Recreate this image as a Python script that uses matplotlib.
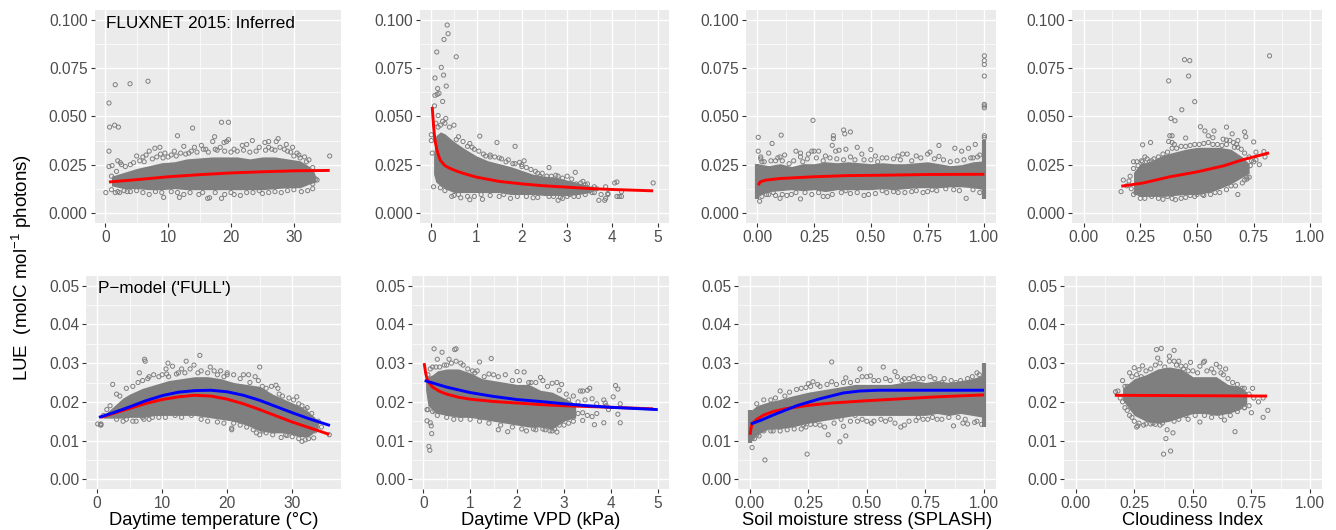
import numpy as np
import matplotlib
matplotlib.use("Agg")
import matplotlib.pyplot as plt

plt.rcParams['font.family'] = ['Liberation Sans', 'DejaVu Sans']
plt.rcParams['mathtext.fontset'] = 'custom'
plt.rcParams['mathtext.rm'] = 'Liberation Sans'
plt.rcParams['mathtext.default'] = 'regular'

W, H = 1336, 530
GREY = '#7F7F7F'

# ---------- top row data: band = dense body of the cloud (x, low, high), pts = individually legible points
a_band_x = [1, 3, 5, 7, 9, 11, 13, 15, 17, 19, 21, 23, 25, 27, 29, 31, 32.5, 33.5]
a_band_hi = [.019, .021, .023, .0245, .026, .0265, .028, .0285, .029, .029, .029, .028, .029, .029, .028, .027, .024, .019]
a_band_lo = [.014, .0125, .0125, .012, .012, .0125, .012, .012, .012, .012, .012, .012, .012, .0125, .013, .013, .015, .016]
a_pts = [(0.1,.0105),(0.6,.032),(0.6,.024),(1.1,.0245),(0.6,.057),(0.7,.0445),(1.5,.0455),(2.1,.0445),(1.6,.0665),(3.95,.067),(6.8,.0683),
 (11.5,.040),(13.9,.044),(18.5,.047),(19.6,.047),(17.4,.0395),(17.1,.037),(19.6,.038),(18.9,.0365),(19.3,.037),(27.5,.0385),(27.2,.037),
 (23.4,.0375),(26,.037),(25.4,.0365),(28.8,.0355),(29.8,.034),(21.8,.035),(22.5,.0355),(35.7,.0295),(15.3,.035),(14.2,.034),(12.5,.0345),
 (8.7,.034),(7.9,.0335),(5,.0295),(6,.029),(6.5,.030),(7,.032),(2,.027),(2.4,.026),(2.6,.025),(1.8,.0215),(1,.019),(1,.012),(1.6,.0105),
 (2,.011),(2.3,.0105),(3.5,.011),(7,.0095),(9.3,.008),(11.8,.008),(12.5,.0095),(14.9,.0095),(16.3,.0075),(16.6,.0078),(18.5,.0075),(20,.0105),
 (21.5,.009),(25,.010),(28,.0105),(31.2,.011),(32.2,.0115),(33,.0125),(33.5,.0175),(33.7,.017),(33,.015),(33,.02),(32.4,.0275),(31.7,.029),
 (31,.0285),(30.5,.031),(10.5,.030),(9.5,.031),(11,.032),(13.3,.031),(16,.033),(17.5,.033),(20.5,.033),(24,.032),(26.5,.033),(29,.032),(4,.025),(3.2,.024),
 (4.5,.026),(5.5,.027),(6.2,.0265),(7.5,.028),(8.2,.029),(8.8,.0305),(9.2,.0285),(10,.029),(11.3,.0295),(12,.031),(12.8,.0305),(13.7,.032),(14.6,.0315),
 (15.6,.033),(16.4,.0315),(17.8,.0325),(18.3,.034),(19,.032),(20,.0315),(21,.032),(22,.0325),(23,.0315),(24.5,.034),(25.5,.0325),(26,.034),(27,.0325),
 (27.8,.034),(28.5,.033),(29.5,.0315),(30,.0295),(30.8,.03),(32,.0265),(33,.0235),(5,.0115),(6,.0105),(8,.011),(9,.0105),(10.5,.011),(11.5,.0105),
 (13.5,.0105),(15.5,.0105),(17.5,.0105),(19,.0095),(20.5,.0095),(22.5,.0105),(23.5,.0105),(24.5,.0115),(26,.0105),(27,.011),(29,.0115),(30,.012),(3,.0115),(4,.011)]
a_red_x = [.6, 5, 10, 15, 20, 25, 30, 35.7]
a_red_y = [.016, .0172, .0187, .0198, .0207, .0213, .0218, .0220]

b_band_x = [.05, .1, .2, .3, .5, .75, 1, 1.25, 1.5, 1.75, 2, 2.25, 2.5, 2.75, 3, 3.25, 3.5]
b_band_hi = [.03, .04, .042, .041, .037, .033, .0295, .027, .0255, .024, .022, .020, .019, .0185, .017, .0155, .014]
b_band_lo = [.02, .016, .014, .0125, .0105, .0105, .0105, .0105, .0105, .0095, .0095, .0095, .009, .009, .009, .0095, .0105]
b_pts = [(.35,.0975),(.37,.093),(.28,.09),(.12,.0835),(.55,.081),(.22,.0755),(.27,.0715),(.08,.07),(.33,.0658),(.14,.0645),(.08,.061),(.13,.0615),
 (.17,.062),(.25,.0578),(.07,.0555),(.15,.0505),(.32,.049),(.25,.0475),(.5,.0455),(.1,.0465),(.0,.0405),(.0,.0375),(.02,.031),(.05,.0135),(1.07,.0398),
 (1.45,.0365),(1.85,.0345),(.85,.036),(.55,.038),(1.15,.0305),(1.7,.0275),(2.05,.027),(1.95,.0262),(2.6,.0235),(3.18,.021),(3.35,.0163),(3,.019),
 (2.8,.019),(2.65,.019),(2.45,.0205),(2.3,.0215),(2.1,.0235),(2.4,.019),(3.85,.0135),(3.9,.01),(4.05,.0155),(4.1,.016),(4.9,.0155),(4.2,.011),
 (4.15,.0085),(4.2,.0085),(4.1,.0085),(3.9,.0095),(3.85,.0075),(3.83,.0065),(3.7,.0065),(3.55,.0125),(3.65,.0125),(3.75,.0095),(3.6,.0105),(3.5,.0115),
 (3.25,.0085),(3.05,.0095),(2.9,.0075),(2.8,.0065),(1.13,.007),(.85,.0068),(.65,.0078),(.5,.009),(1.75,.0075),(2.25,.0078),(2.7,.0085),(3.35,.011),
 (3.4,.013),(3.2,.015),(3.1,.015),(.9,.034),(1.3,.029),(1.5,.0285),(1.8,.0255),(2.0,.025),
 (.4,.0445),(.3,.0465),(.2,.0455),(.15,.0445),(.6,.0395),(.7,.037),(.8,.0345),(.95,.033),(1.05,.032),(1.2,.0295),(1.3,.03),(1.4,.029),(1.55,.028),(1.65,.0265),
 (1.85,.0255),(2,.024),(2.2,.0225),(2.35,.0205),(2.55,.019),(2.75,.0195),(2.9,.018),(3.1,.0175),(3.3,.0155),(3.45,.015),(3.6,.0135),(3.4,.0145),(.45,.0085),
 (.6,.0095),(.8,.0085),(.95,.0085),(1.1,.0095),(1.3,.009),(1.5,.0085),(1.6,.0095),(1.9,.0085),(2.1,.0085),(2.35,.008),(2.6,.0085),(2.85,.008),(3,.0085),
 (3.15,.0085),(3.4,.0095),(3.55,.0105),(.2,.013),(.3,.0115)]
b_red_x = [.02, .05, .08, .12, .16, .2, .3, .4, .5, .6, .75, 1, 1.5, 2, 2.5, 3, 3.5, 4, 4.9]
b_red_y = [.055, .045, .0376, .033, .0297, .0272, .0245, .0232, .0222, .0213, .0202, .0185, .0163, .015, .014, .0133, .0126, .0121, .0114]

c_band_x = [0, .05, .1, .15, .2, .25, .3, .35, .4, .45, .5, .55, .6, .65, .7, .75, .8, .85, .9, .95, 1]
c_band_hi = [.0255, .0245, .0255, .024, .0255, .0255, .0265, .026, .0265, .026, .0255, .026, .0255, .0255, .026, .0265, .0255, .0245, .025, .0265, .027]
c_band_lo = [.0085, .011, .0115, .012, .0115, .012, .011, .012, .012, .012, .012, .0125, .012, .0125, .013, .013, .013, .0135, .0135, .013, .012]
c_col_x = [0, 1]
c_col_lo = [.007, .007]
c_col_hi = [.0255, .038]
c_pts = [(1,.0815),(1,.079),(1,.077),(1,.071),(1,.0563),(1,.0545),(1,.0555),(1,.04),(1,.039),(.245,.048),(.38,.043),(.385,.041),(.41,.042),(.335,.040),
 (.335,.0385),(.33,.035),(.105,.0403),(.004,.0392),(.065,.036),(.004,.032),(.05,.031),(.015,.029),(.015,.028),(.03,.0265),(.09,.0285),(.1,.029),(.12,.030),
 (.17,.032),(.19,.031),(.19,.029),(.225,.0305),(.24,.032),(.25,.032),(.27,.032),(.3,.0295),(.345,.032),(.36,.0325),(.39,.033),(.44,.034),(.5,.0328),
 (.46,.0305),(.52,.0295),(.55,.0285),(.62,.0295),(.66,.0305),(.64,.0305),(.7,.0295),(.75,.0305),(.76,.0315),(.8,.0293),(.8,.035),(.87,.0335),(.9,.032),
 (.93,.0335),(.96,.0355),(.98,.03),(.95,.0285),(.01,.006),(.1,.0075),(.19,.0072),(.29,.0085),(.47,.009),(.92,.0075),(.52,.01),(.57,.0105),(.62,.0105),
 (.68,.011),(.75,.011),(.79,.0115),(.865,.012),(.13,.009),(.05,.0095),(.08,.009),(.24,.0095),(.41,.01),
 (.02,.0265),(.06,.027),(.08,.027),(.11,.027),(.14,.0255),(.16,.027),(.2,.0265),(.22,.028),(.26,.0285),(.29,.027),(.32,.0285),(.35,.028),(.38,.0275),(.41,.029),
 (.43,.0275),(.47,.0275),(.5,.0275),(.53,.0265),(.57,.0285),(.6,.028),(.63,.0275),(.68,.027),(.72,.0285),(.78,.028),(.82,.0275),(.85,.0265),(.88,.027),(.91,.0275),
 (.94,.0285),(.97,.029),(.02,.0085),(.04,.0095),(.07,.0105),(.11,.0095),(.15,.0095),(.17,.0105),(.21,.0105),(.27,.0105),(.31,.0085),(.33,.0095),(.37,.0105),
 (.39,.0115),(.44,.0105),(.49,.0095),(.55,.0115),(.6,.011),(.65,.0105),(.7,.0115),(.73,.0105),(.77,.012),(.83,.0125),(.89,.0115),(.95,.012),(.98,.0105)]
c_red_x = [.004, .012, .034, .1, .247, .394, .54, .76, 1]
c_red_y = [.0143, .016, .0169, .0178, .0187, .0193, .0195, .0199, .020]

d_band_x = [.22, .25, .3, .35, .4, .45, .5, .55, .6, .65, .7, .73]
d_band_hi = [.021, .0255, .027, .030, .0315, .033, .034, .034, .034, .033, .029, .0255]
d_band_lo = [.010, .0085, .0085, .0085, .009, .0095, .0095, .0105, .0125, .015, .0185, .0205]
d_pts = [(.82,.0815),(.445,.0795),(.468,.079),(.463,.071),(.375,.0685),(.49,.0577),(.433,.0535),(.385,.049),(.403,.0478),(.515,.0447),(.535,.0425),(.575,.0425),
 (.63,.0445),(.655,.041),(.71,.042),(.715,.0395),(.75,.0368),(.38,.04),(.39,.04),(.375,.037),(.39,.0365),(.4,.0355),(.26,.0353),(.295,.0365),(.45,.0388),
 (.55,.040),(.57,.039),(.615,.0382),(.63,.0378),(.645,.0375),(.68,.0375),(.675,.0355),(.665,.034),(.695,.033),(.76,.0315),(.795,.0318),(.8,.029),(.76,.0275),
 (.74,.027),(.775,.025),(.735,.0245),(.72,.0235),(.72,.0175),(.72,.0185),(.68,.0095),(.25,.0075),(.175,.017),(.165,.011),(.22,.0265),(.235,.0265),(.255,.027),
 (.27,.029),(.29,.0265),(.3,.027),(.205,.019),(.22,.0095),(.35,.007),(.405,.0068),(.43,.0075),(.49,.0085),(.525,.0095),(.5,.0095),(.6,.0105),(.65,.014),(.7,.0155),
 (.22,.023),(.24,.0245),(.26,.0265),(.28,.028),(.31,.028),(.33,.029),(.35,.0305),(.37,.0315),(.39,.0335),(.41,.0335),(.43,.0345),(.45,.0345),(.47,.035),(.49,.0355),
 (.51,.0355),(.53,.036),(.55,.0365),(.57,.0355),(.59,.0355),(.61,.035),(.63,.0355),(.66,.0365),(.68,.034),(.71,.031),(.73,.029),(.75,.0265),(.21,.0125),(.23,.0105),
 (.27,.0075),(.3,.0085),(.33,.0075),(.37,.0085),(.39,.0075),(.45,.008),(.47,.009),(.53,.009),(.56,.0095),(.58,.0105),(.63,.012),(.67,.014),(.71,.017),(.73,.0185),(.19,.014),(.2,.0165)]
d_red_x = [.166, .263, .38, .498, .615, .703, .818]
d_red_y = [.0138, .0155, .0187, .0212, .0243, .0276, .0311]

# ---------- bottom row data
e_band_x = [1, 3, 4, 5, 7, 9, 11, 13, 15, 17, 19, 21, 23, 25, 27, 29, 31, 32.5, 34]
e_band_hi = [.0165, .0195, .021, .022, .0235, .0245, .0255, .026, .0265, .0265, .026, .025, .0245, .024, .022, .0205, .019, .0175, .015]
e_band_lo = [.0158, .0158, .0158, .016, .016, .0165, .0165, .0165, .0165, .016, .0155, .015, .014, .0125, .012, .012, .011, .011, .013]
e_pts = [(0.1,.0143),(.6,.0143),(.5,.0141),(.6,.014),(2.4,.0245),(3,.022),(6.5,.0275),(7.3,.031),(7.4,.0305),(8,.0265),(10.6,.0285),(10.7,.0272),(10.9,.03),
 (11.6,.0292),(12.2,.0272),(13,.0285),(13.7,.0305),(14.3,.0285),(14.9,.0295),(15.8,.032),(16,.028),(17.4,.029),(19,.028),(20,.0275),(20,.027),(22.5,.027),
 (23.3,.027),(24.3,.0265),(25,.029),(25.4,.024),(27.5,.0243),(28,.022),(30.7,.0213),(31,.0195),(32,.018),(33.2,.0155),(33.8,.0145),(35.7,.0115),(33.3,.0107),
 (31.5,.0098),(31,.0105),(32,.0102),(29.2,.0113),(28.3,.0108),(20.7,.0128),(20.7,.0132),(24,.0128),(25,.0115),(26,.012),(6,.015),(3,.0155),(4,.015),(7,.016),
 (7.2,.0155),(9.5,.016),(12,.0165),(14.5,.0165),(18.5,.0148),(1,.0165),(1.5,.018),(2,.019),
 (3.5,.0215),(4.5,.0235),(5.5,.024),(6.3,.025),(7,.0255),(7.8,.026),(8.7,.027),(9.5,.0265),(10,.027),(11,.0265),(12.5,.0275),(13.5,.0275),(15.5,.0275),(17,.0275),
 (18,.028),(18.5,.027),(19.5,.0265),(21,.027),(22,.026),(23.5,.025),(24.8,.0255),(26,.0235),(26.8,.024),(27.8,.0235),(28.5,.0215),(29.5,.021),(30.2,.0205),(31.5,.019),
 (32.3,.0185),(33,.017),(34,.015),(4.5,.0155),(5.5,.015),(8,.0155),(8.5,.016),(10.5,.016),(13,.016),(16,.0155),(17,.015),(19.5,.0145),(21,.0145),(22,.014),(23,.0135),
 (24.5,.012),(25.5,.0125),(27,.0115),(29,.0115),(30,.011),(32.5,.0105),(33.5,.0125),(34.5,.0135)]
e_red_x = [.6, 2.5, 5, 7.5, 10, 12.5, 15, 17.5, 20, 22.5, 25, 27.5, 30, 32.5, 35.7]
e_red_y = [.016, .017, .0183, .0196, .0206, .0213, .0217, .0215, .0207, .0195, .018, .0164, .0148, .0134, .0116]
e_blue_x = [.3, 2.5, 5, 7.5, 10, 12.5, 15, 17.5, 20, 22.5, 25, 27.5, 30, 32.5, 35.8]
e_blue_y = [.016, .0172, .0187, .0203, .0216, .0225, .0229, .023, .0226, .0217, .0204, .0188, .0172, .0157, .0139]

f_band_x = [.05, .1, .2, .3, .5, .75, 1, 1.25, 1.5, 1.75, 2, 2.25, 2.5, 2.75, 3, 3.25]
f_band_hi = [.0255, .0265, .027, .028, .0285, .0285, .0275, .026, .0255, .025, .0245, .0245, .023, .0225, .021, .0195]
f_band_lo = [.023, .019, .018, .017, .0165, .016, .016, .0155, .015, .0145, .014, .0135, .0135, .013, .015, .016]
f_pts = [(.23,.0337),(.4,.0328),(.67,.0335),(.7,.0337),(.3,.031),(.55,.031),(.7,.0305),(.8,.03),(.27,.029),(1.05,.028),(1.15,.028),(1.2,.0303),(1.45,.0312),(1.4,.0272),
 (1.5,.027),(1.75,.027),(2,.0278),(2.15,.0277),(2.5,.0263),(2.55,.0255),(2.25,.025),(2.3,.025),(2.75,.0248),(2.85,.025),(2.95,.0245),(3.05,.022),(3.35,.0228),(3.4,.0228),
 (3.5,.023),(3.55,.0235),(3.6,.0208),(4.1,.0242),(4.15,.0233),(4.05,.0213),(3.85,.0205),(3.88,.0197),(4.2,.0195),(4.15,.0168),(4.2,.0146),(3.85,.0146),(3.65,.0141),
 (3.6,.0162),(3.4,.0172),(3.4,.0152),(3.2,.016),(3.1,.0145),(2.85,.0122),(2.8,.013),(2.7,.0125),(2.6,.0128),(2.4,.0128),(2.2,.0125),(1.8,.0123),(1.6,.0128),(.08,.018),
 (.08,.0151),(.15,.0146),(.17,.0138),(.18,.0118),(.12,.0085),(.14,.0075),(.1,.018),(.25,.0177),
 (.1,.027),(.15,.0285),(.2,.029),(.35,.029),(.45,.0295),(.5,.0295),(.6,.03),(.85,.0295),(.95,.0285),(1.1,.0275),(1.3,.0265),(1.6,.0265),(1.9,.0255),(2.05,.0255),(2.4,.025),
 (2.65,.024),(2.9,.023),(3.1,.0205),(3.2,.0215),(3.3,.02),(3.45,.0205),(3.7,.0195),(3.9,.019),(.2,.0175),(.3,.0165),(.5,.016),(.65,.0155),(.8,.0155),(1,.0155),(1.2,.015),
 (1.4,.0145),(1.65,.014),(1.9,.0135),(2.1,.013),(2.35,.013),(2.55,.013),(2.75,.0125),(2.9,.014),(3,.014),(3.2,.015),(3.3,.017),(3.5,.0165),(3.7,.017),(3.95,.018)]
f_red_x = [.02, .05, .08, .12, .2, .35, .5, .75, 1, 1.5, 2, 2.5, 3, 4, 4.9]
f_red_y = [.03, .0275, .026, .025, .0238, .0227, .022, .0212, .0207, .0201, .0197, .0193, .019, .0186, .0182]
f_blue_x = [.03, .25, .5, 1, 1.5, 2, 2.5, 3, 3.5, 4, 5]
f_blue_y = [.0255, .0247, .0238, .0224, .0214, .0206, .0201, .0195, .019, .0186, .018]

g_band_x = [0, .03, .08, .12, .18, .25, .3, .35, .4, .45, .5, .55, .6, .65, .7, .75, .8, .85, .9, .95, 1]
g_band_hi = [.0175, .019, .02, .0205, .0215, .0225, .023, .0235, .024, .0245, .0245, .0245, .0245, .025, .0255, .025, .0255, .025, .0255, .026, .027]
g_band_lo = [.0095, .0115, .013, .013, .0135, .0145, .015, .0155, .016, .0165, .0165, .0165, .0165, .0165, .0165, .0165, .017, .0165, .017, .0165, .016]
g_col_x = [0, 1]
g_col_lo = [.0095, .0135]
g_col_hi = [.018, .030]
g_pts = [(.35,.0303),(.47,.0285),(.57,.029),(.62,.0278),(.48,.0265),(.5,.0265),(.515,.0267),(.41,.0262),(.55,.0255),(.58,.026),(.65,.0255),(.68,.026),(.72,.026),(.77,.0265),
 (.83,.026),(.9,.0255),(.98,.027),(.25,.0247),(.27,.0252),(.29,.0245),(.35,.0252),(.13,.0228),(.2,.0232),(.24,.0237),(.245,.0065),(.065,.005),(.01,.0082),(.335,.0115),
 (.385,.0097),(.41,.0112),(.4,.0137),(.3,.014),(.28,.0142),(.23,.014),(.22,.013),(.1,.0125),(.04,.0112),(.02,.0105),(.53,.015),(.56,.0155),(.6,.0155),(.645,.0135),(.66,.014),
 (.71,.0152),(.76,.0155),(.8,.0155),(.87,.0138),(.91,.0145),(.93,.0143),(.96,.0147),(.99,.0142),(.45,.0165),(.48,.0155),
 (.03,.0195),(.06,.0205),(.09,.0205),(.11,.021),(.15,.0215),(.17,.0225),(.22,.0235),(.26,.024),(.3,.024),(.33,.0245),(.37,.0245),(.4,.025),(.43,.025),(.46,.0255),(.53,.0255),
 (.6,.0255),(.63,.0265),(.66,.026),(.7,.0265),(.74,.026),(.79,.026),(.82,.025),(.86,.0255),(.88,.025),(.93,.026),(.95,.0265),(.97,.0275),
 (.01,.0105),(.03,.0115),(.06,.0125),(.09,.0125),(.13,.0125),(.16,.0128),(.19,.013),(.24,.0135),(.26,.0142),(.32,.0135),(.36,.0145),(.39,.0155),(.43,.015),(.46,.015),(.5,.015),
 (.52,.0145),(.58,.015),(.62,.0145),(.68,.015),(.72,.016),(.74,.0155),(.78,.016),(.82,.0155),(.85,.016),(.89,.016),(.92,.0155),(.97,.015)]
g_red_x = [.002, .005, .01, .03, .06, .1, .15, .25, .35, .5, .65, .8, 1]
g_red_y = [.0115, .013, .0143, .0155, .0166, .0175, .0182, .0191, .0197, .0203, .0208, .0213, .0218]
g_blue_x = [.005, .05, .1, .15, .2, .3, .4, .47, .55, .7, .85, 1]
g_blue_y = [.0143, .0153, .0166, .0178, .019, .0208, .0223, .0228, .023, .023, .023, .023]

h_band_x = [.2, .23, .25, .3, .35, .4, .45, .5, .55, .6, .65, .7, .73]
h_band_hi = [.0235, .025, .026, .027, .0285, .029, .0285, .0265, .0265, .0265, .0245, .024, .0225]
h_band_lo = [.0205, .018, .0165, .015, .0145, .015, .016, .017, .017, .0165, .017, .018, .0195]
h_pts = [(.345,.0335),(.365,.0338),(.42,.0333),(.35,.0313),(.4,.0318),(.4,.0305),(.44,.0305),(.49,.0302),(.45,.0292),(.47,.0293),(.55,.0305),(.545,.0302),(.53,.0292),(.6,.0297),
 (.615,.029),(.64,.0285),(.63,.027),(.58,.0285),(.27,.0283),(.25,.0288),(.285,.0293),(.23,.0275),(.2,.0255),(.17,.0226),(.18,.0228),(.22,.024),(.72,.0235),(.755,.0235),(.76,.021),
 (.78,.02),(.8,.021),(.82,.0178),(.75,.0172),(.8,.016),(.72,.0185),(.68,.0123),(.635,.0153),(.53,.0148),(.48,.0155),(.42,.015),(.415,.012),(.39,.0128),(.385,.0105),(.405,.0073),
 (.375,.0065),(.36,.014),(.34,.0142),(.32,.0143),(.29,.014),(.26,.0135),(.265,.0138),(.24,.016),(.22,.0178),(.2,.02),
 (.21,.024),(.24,.0265),(.26,.027),(.28,.0265),(.3,.028),(.32,.0285),(.34,.0295),(.36,.03),(.38,.029),(.42,.0305),(.43,.0295),(.46,.0285),(.48,.028),(.5,.028),(.52,.0275),(.56,.028),
 (.59,.0275),(.62,.0275),(.65,.026),(.67,.025),(.69,.0245),(.71,.0235),(.74,.022),(.19,.021),(.21,.0185),(.23,.0165),(.25,.015),(.27,.0145),(.3,.0143),(.33,.0145),(.37,.0145),
 (.39,.0155),(.44,.0155),(.47,.0165),(.51,.0165),(.55,.0165),(.58,.016),(.62,.0162),(.66,.0165),(.69,.0175),(.72,.0185),(.74,.019)]
h_red_x = [.167, .5, .817]
h_red_y = [.0217, .0216, .0215]

x_ticks_temp = [0, 10, 20, 30]
x_ticks_vpd = [0, 1, 2, 3, 4, 5]
x_ticks_frac = [0, .25, .5, .75, 1]
y_ticks_top = [0, .025, .05, .075, .1]
y_ticks_bot = [0, .01, .02, .03, .04, .05]
x_titles = ['Daytime temperature (°C)', 'Daytime VPD (kPa)', 'Soil moisture stress (SPLASH)', 'Cloudiness Index']

fig = plt.figure(figsize=(W / 100, H / 100), dpi=100)
fig.patch.set_facecolor('white')


def panel(box, xlim, ylim, xt, yt, xfmt, yfmt, band, pts, col=None, red=None, blue=None, xlabel=None):
    l, t, r, b = box
    ax = fig.add_axes([l / W, 1 - b / H, (r - l) / W, (b - t) / H])
    ax.set_facecolor('#EBEBEB')
    for s in ax.spines.values():
        s.set_visible(False)
    ax.set_xlim(*xlim)
    ax.set_ylim(*ylim)
    ax.set_xticks(xt)
    ax.set_yticks(yt)
    ax.set_xticklabels([xfmt.format(v) for v in xt])
    ax.set_yticklabels([yfmt.format(v) for v in yt])
    ax.set_xticks(((np.array(xt[:-1]) + np.array(xt[1:])) / 2), minor=True)
    ax.set_yticks(((np.array(yt[:-1]) + np.array(yt[1:])) / 2), minor=True)
    ax.tick_params(which='major', length=3, width=.8, color='#333333', labelcolor='#4D4D4D', labelsize=11.2, pad=2)
    ax.tick_params(which='minor', length=0)
    ax.grid(which='major', color='white', lw=1.0, zorder=0)
    ax.grid(which='minor', color='white', lw=.5, zorder=0)
    ax.set_axisbelow(True)
    ax.fill_between(band[0], band[1], band[2], color=GREY, lw=0, zorder=2)
    if col is not None:
        ax.vlines(col[0], col[1], col[2], color=GREY, lw=3, zorder=2)
    p = np.array(pts)
    ax.scatter(p[:, 0], p[:, 1], s=9, facecolors='none', edgecolors=GREY, linewidths=.7, zorder=3)
    if red is not None:
        ax.plot(red[0], red[1], color='#FF0000', lw=2.1, zorder=4, solid_capstyle='butt')
    if blue is not None:
        ax.plot(blue[0], blue[1], color='#0000FF', lw=2.1, zorder=5, solid_capstyle='butt')
    if xlabel:
        ax.set_xlabel(xlabel, fontsize=13.2, color='black', labelpad=1)
    return ax


ylim_top = (-0.0053, 0.1053)
ylim_bot = (-0.0025, 0.0525)
ax_a = panel((94.5, 10, 341, 223), (-1.7, 37.5), ylim_top, x_ticks_temp, y_ticks_top, '{:d}', '{:.3f}',
             (a_band_x, a_band_lo, a_band_hi), a_pts, red=(a_red_x, a_red_y))
panel((420, 10, 669, 223), (-.25, 5.25), ylim_top, x_ticks_vpd, y_ticks_top, '{:d}', '{:.3f}',
      (b_band_x, b_band_lo, b_band_hi), b_pts, red=(b_red_x, b_red_y))
panel((746, 10, 995.7, 223), (-.05, 1.05), ylim_top, x_ticks_frac, y_ticks_top, '{:.2f}', '{:.3f}',
      (c_band_x, c_band_lo, c_band_hi), c_pts, col=(c_col_x, c_col_lo, c_col_hi), red=(c_red_x, c_red_y))
panel((1072.3, 10, 1321.7, 223), (-.05, 1.05), ylim_top, x_ticks_frac, y_ticks_top, '{:.2f}', '{:.3f}',
      (d_band_x, d_band_lo, d_band_hi), d_pts, red=(d_red_x, d_red_y))
ax_e = panel((86, 276, 341, 489), (-1.7, 37.5), ylim_bot, x_ticks_temp, y_ticks_bot, '{:d}', '{:.2f}',
             (e_band_x, e_band_lo, e_band_hi), e_pts, red=(e_red_x, e_red_y), blue=(e_blue_x, e_blue_y), xlabel=x_titles[0])
panel((412, 276, 669, 489), (-.24, 5.24), ylim_bot, x_ticks_vpd, y_ticks_bot, '{:d}', '{:.2f}',
      (f_band_x, f_band_lo, f_band_hi), f_pts, red=(f_red_x, f_red_y), blue=(f_blue_x, f_blue_y), xlabel=x_titles[1])
panel((738, 276, 995.7, 489), (-.05, 1.05), ylim_bot, x_ticks_frac, y_ticks_bot, '{:.2f}', '{:.2f}',
      (g_band_x, g_band_lo, g_band_hi), g_pts, col=(g_col_x, g_col_lo, g_col_hi), red=(g_red_x, g_red_y), blue=(g_blue_x, g_blue_y), xlabel=x_titles[2])
panel((1064, 276, 1321.7, 489), (-.05, 1.05), ylim_bot, x_ticks_frac, y_ticks_bot, '{:.2f}', '{:.2f}',
      (h_band_x, h_band_lo, h_band_hi), h_pts, red=(h_red_x, h_red_y), xlabel=x_titles[3])

fig.text(106 / W, 1 - 23 / H, 'FLUXNET 2015: Inferred', fontsize=12.3, color='black', va='center', ha='left')
fig.text(98 / W, 1 - 289 / H, "P\u2212model ('FULL')", fontsize=12.3, color='black', va='center', ha='left')
fig.text(22 / W, 1 - 268 / H, r'LUE  (molC mol$^{-1}$ photons)', fontsize=13.5, rotation=90, color='black', va='center', ha='center')

fig.savefig('out.png', dpi=100)
